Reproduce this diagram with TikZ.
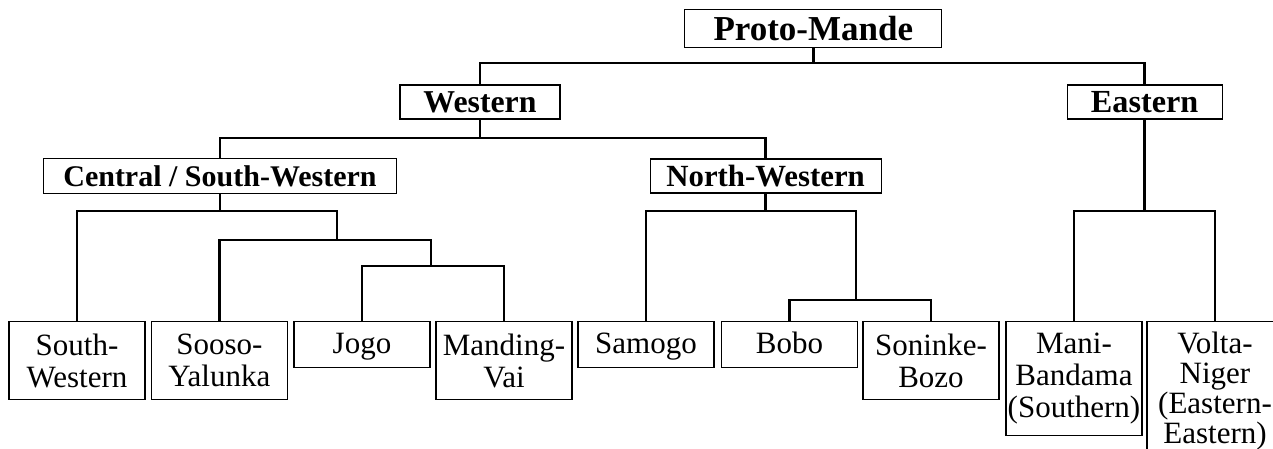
\documentclass[tikz,border=0pt]{standalone}
\usepackage{fontspec}
\setmainfont{Liberation Serif}
\begin{document}
\begin{tikzpicture}[x=1pt,y=-1pt,
  head/.style={draw, line width=1.2pt, minimum height=34pt, inner sep=0pt},
  leaf/.style={draw, line width=1.2pt, font=\fontsize{31}{32}\selectfont, align=center, minimum width=136pt, inner sep=0pt, anchor=north},
  oneline/.style={leaf, minimum height=46pt, text height=24pt, text depth=6.8pt},
  conn/.style={line width=2.7pt}]
\useasboundingbox (0,0) rectangle (1273,448);
\clip (0,0) rectangle (1273,448);
% header nodes
\node[head, minimum width=257pt, minimum height=37.5pt, font=\fontsize{35}{35}\selectfont\bfseries] (pm) at (813.3,28.5) {Proto-Mande};
\node[head, minimum width=160pt, font=\fontsize{31.8}{32}\selectfont\bfseries] (w) at (480,102) {Western};
\node[head, minimum width=155pt, font=\fontsize{32.2}{32}\selectfont\bfseries] (e) at (1144.6,102) {Eastern};
\node[head, minimum width=353pt, minimum height=35pt, font=\fontsize{30}{30}\selectfont\bfseries] (csw) at (220,176) {Central / South-Western};
\node[head, minimum width=231pt, font=\fontsize{30.8}{31}\selectfont\bfseries] (nw) at (765.6,176) {North-Western};
% leaves
\node[leaf, minimum height=78pt] (sw) at (77,321) {South-\\Western};
\node[leaf, minimum height=78pt] (so) at (219.4,321) {Sooso-\\Yalunka};
\node[oneline] (jo) at (362,321) {Jogo};
\node[leaf, minimum height=78pt] (mv) at (504,321) {Manding-\\Vai};
\node[oneline] (sa) at (646,321) {Samogo};
\node[oneline] (bo) at (789.5,321) {Bobo};
\node[leaf, minimum height=78pt] (sb) at (931,321) {Soninke-\\Bozo};
\node[leaf, minimum height=114pt] (mb) at (1074,321) {Mani-\\Bandama\\(Southern)};
\node[leaf, minimum height=138pt, font=\fontsize{31}{30}\selectfont] (vn) at (1215,321) {Volta-\\Niger\\(Eastern-\\Eastern)};
% junctions
\coordinate (j0) at (pm.south |- 0,63);
\coordinate (j1) at (w.south |- 0,138);
\coordinate (j2) at (csw.south |- 0,211);
\coordinate (j3) at (nw.south |- 0,211);
\coordinate (j4) at (e.south |- 0,211);
\coordinate (k1) at (337,240);
\coordinate (k2) at (431,266);
\coordinate (k3) at (856,300);
% connectors
\draw[conn] (pm.south) -- (j0);
\draw[conn] (w.north) |- (j0) -| (e.north);
\draw[conn] (w.south) -- (j1);
\draw[conn] (csw.north) |- (j1) -| (nw.north);
\draw[conn] (csw.south) -- (j2);
\draw[conn] (sw.north) |- (j2) -| (k1);
\draw[conn] (so.north) |- (k1) -| (k2);
\draw[conn] (jo.north) |- (k2) -| (mv.north);
\draw[conn] (nw.south) -- (j3);
\draw[conn] (sa.north) |- (j3) -| (k3);
\draw[conn] (bo.north) |- (k3) -| (sb.north);
\draw[conn] (e.south) -- (j4);
\draw[conn] (mb.north) |- (j4) -| (vn.north);
\end{tikzpicture}
\end{document}
